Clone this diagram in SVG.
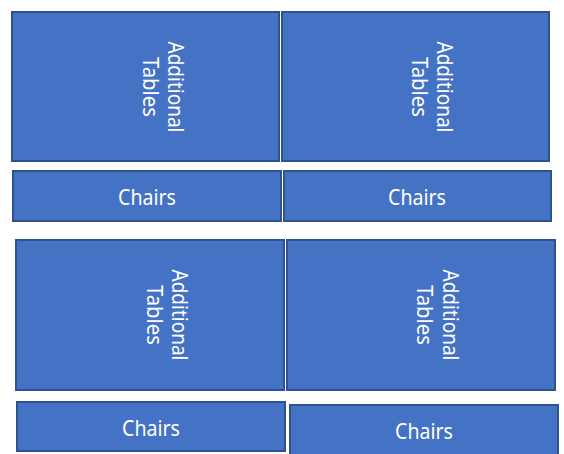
<svg xmlns="http://www.w3.org/2000/svg" width="564" height="454" viewBox="0 0 564 454">
<style>
.box{fill:#4472C4;stroke:#2F528F;stroke-width:2}
.t{font-family:"Noto Sans","Liberation Sans",sans-serif;fill:#ffffff;text-anchor:middle}
.v{font-size:22px}
.h{font-size:22px}
</style>
<rect width="564" height="454" fill="#ffffff"/>
<g id="table1">
<rect class="box" x="12" y="12" width="267" height="149"/>
<text class="t v" x="168" y="87" transform="rotate(90 168 87)" textLength="91" lengthAdjust="spacingAndGlyphs">Additional</text>
<text class="t v" x="142.5" y="87" transform="rotate(90 142.5 87)" textLength="60" lengthAdjust="spacingAndGlyphs">Tables</text>
</g>
<g id="table2">
<rect class="box" x="282" y="12" width="267" height="149"/>
<text class="t v" x="437" y="87" transform="rotate(90 437 87)" textLength="91" lengthAdjust="spacingAndGlyphs">Additional</text>
<text class="t v" x="411.5" y="87" transform="rotate(90 411.5 87)" textLength="60" lengthAdjust="spacingAndGlyphs">Tables</text>
</g>
<g id="chairs1">
<rect class="box" x="13" y="171" width="268" height="50"/>
<text class="t h" x="147" y="205" textLength="58" lengthAdjust="spacingAndGlyphs">Chairs</text>
</g>
<g id="chairs2">
<rect class="box" x="284" y="171" width="267" height="50"/>
<text class="t h" x="417" y="205" textLength="58" lengthAdjust="spacingAndGlyphs">Chairs</text>
</g>
<g id="table3">
<rect class="box" x="16" y="240" width="268" height="150"/>
<text class="t v" x="172" y="315" transform="rotate(90 172 315)" textLength="91" lengthAdjust="spacingAndGlyphs">Additional</text>
<text class="t v" x="146.5" y="315" transform="rotate(90 146.5 315)" textLength="60" lengthAdjust="spacingAndGlyphs">Tables</text>
</g>
<g id="table4">
<rect class="box" x="287" y="240" width="268" height="150"/>
<text class="t v" x="443" y="315" transform="rotate(90 443 315)" textLength="91" lengthAdjust="spacingAndGlyphs">Additional</text>
<text class="t v" x="417" y="315" transform="rotate(90 417 315)" textLength="60" lengthAdjust="spacingAndGlyphs">Tables</text>
</g>
<g id="chairs3">
<rect class="box" x="17" y="402" width="268" height="49"/>
<text class="t h" x="151" y="436" textLength="58" lengthAdjust="spacingAndGlyphs">Chairs</text>
</g>
<g id="chairs4">
<rect class="box" x="290" y="405" width="268" height="52"/>
<text class="t h" x="424" y="439" textLength="58" lengthAdjust="spacingAndGlyphs">Chairs</text>
</g>
<g id="connectors"/>
</svg>
